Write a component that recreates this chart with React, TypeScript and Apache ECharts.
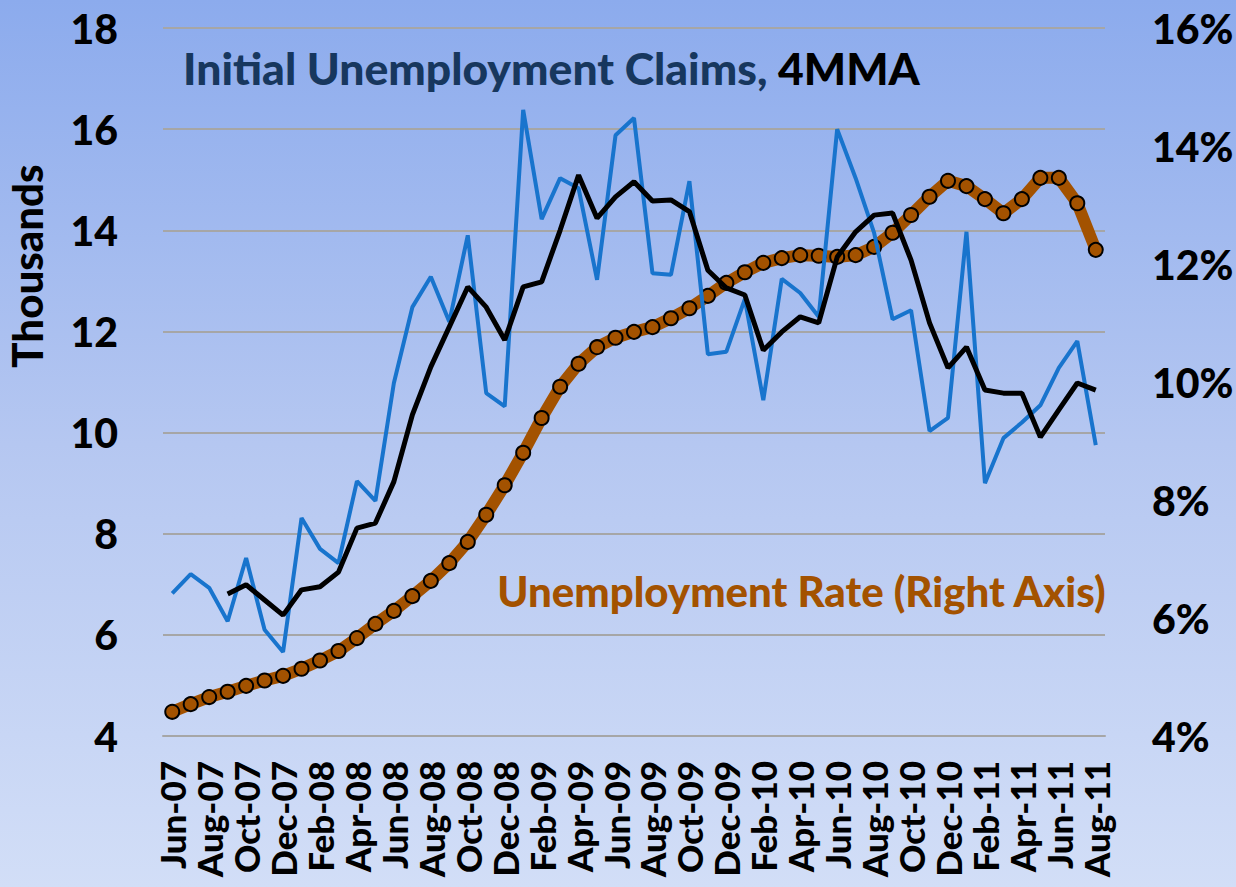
import React, { useEffect, useRef } from "react";
import * as echarts from "echarts";

const months = [
  "Jun-07", "Jul-07", "Aug-07", "Sep-07", "Oct-07", "Nov-07", "Dec-07",
  "Jan-08", "Feb-08", "Mar-08", "Apr-08", "May-08", "Jun-08", "Jul-08", "Aug-08", "Sep-08", "Oct-08", "Nov-08", "Dec-08",
  "Jan-09", "Feb-09", "Mar-09", "Apr-09", "May-09", "Jun-09", "Jul-09", "Aug-09", "Sep-09", "Oct-09", "Nov-09", "Dec-09",
  "Jan-10", "Feb-10", "Mar-10", "Apr-10", "May-10", "Jun-10", "Jul-10", "Aug-10", "Sep-10", "Oct-10", "Nov-10", "Dec-10",
  "Jan-11", "Feb-11", "Mar-11", "Apr-11", "May-11", "Jun-11", "Jul-11", "Aug-11",
];

const initialClaims = [
  6.82, 7.2, 6.93, 6.27, 7.52, 6.1, 5.66,
  8.31, 7.7, 7.42, 9.04, 8.65, 10.98, 12.48, 13.08, 12.19, 13.9, 10.78, 10.52,
  16.38, 14.22, 15.03, 14.83, 13.02, 15.88, 16.22, 13.15, 13.12, 14.97, 11.55, 11.6,
  12.64, 10.64, 13.04, 12.76, 12.29, 16.0, 15.03, 13.95, 12.24, 12.42, 10.03, 10.29,
  13.97, 9.0, 9.89, 10.2, 10.54, 11.28, 11.81, 9.75,
];

const claims4mma = [
  null, null, null, 6.81, 6.99, 6.69, 6.39,
  6.89, 6.95, 7.24, 8.11, 8.21, 9.03, 10.35, 11.3, 12.09, 12.88, 12.48, 11.83,
  12.88, 12.98, 14.0, 15.09, 14.24, 14.66, 14.96, 14.58, 14.6, 14.37, 13.21, 12.86,
  12.72, 11.63, 11.99, 12.29, 12.17, 13.47, 13.97, 14.3, 14.34, 13.41, 12.17, 11.28,
  11.69, 10.84, 10.78, 10.78, 9.91, 10.45, 10.98, 10.84,
];

const unemploymentRate = [
  4.41, 4.54, 4.66, 4.75, 4.85, 4.94, 5.02,
  5.14, 5.28, 5.44, 5.66, 5.9, 6.12, 6.37, 6.63, 6.93, 7.29, 7.75, 8.25,
  8.8, 9.39, 9.92, 10.31, 10.59, 10.75, 10.85, 10.93, 11.08, 11.25, 11.46, 11.68,
  11.86, 12.02, 12.1, 12.15, 12.14, 12.12, 12.15, 12.29, 12.53, 12.83, 13.14, 13.41,
  13.32, 13.1, 12.86, 13.1, 13.46, 13.46, 13.03, 12.24,
];

const FONT = "Lato";
const W = 900;

export default function App() {
  const ref = useRef<HTMLDivElement>(null);
  useEffect(() => {
    if (!ref.current) return;
    const chart = echarts.init(ref.current, null, { renderer: "svg" });
    chart.setOption({
      animation: false,
      backgroundColor: new echarts.graphic.LinearGradient(0, 0, 0, 1, [
        { offset: 0, color: "#8cabed" },
        { offset: 0.5, color: "#b5c7f1" },
        { offset: 1, color: "#d2def7" },
      ]),
      grid: {
        left: 163,
        right: 131,
        top: 28,
        bottom: 151,
        containLabel: false,
        outerBoundsMode: "none",
      },
      xAxis: {
        type: "category",
        data: months,
        boundaryGap: true,
        axisLine: { lineStyle: { color: "#a6a6a6", width: 2 } },
        axisTick: { show: false },
        axisLabel: {
          interval: 1,
          rotate: 90,
          margin: 25,
          hideOverlap: false,
          color: "#000",
          fontFamily: FONT,
          fontWeight: W,
          fontSize: 35,
          lineHeight: 33,
        },
      },
      yAxis: [
        {
          type: "value",
          min: 4,
          max: 18,
          interval: 2,
          axisLine: { show: false },
          axisTick: { show: false },
          splitLine: { lineStyle: { color: "#a6a6a6", width: 2 } },
          axisLabel: {
            margin: 45,
            color: "#000",
            fontFamily: FONT,
            fontWeight: W,
            fontSize: 41,
          },
        },
        {
          type: "value",
          min: 4,
          max: 16,
          interval: 2,
          position: "right",
          axisLine: { show: false },
          axisTick: { show: false },
          splitLine: { show: false },
          axisLabel: {
            margin: 47,
            formatter: "{value}%",
            color: "#000",
            fontFamily: FONT,
            fontWeight: W,
            fontSize: 41,
          },
        },
      ],
      series: [
        {
          name: "Unemployment Rate",
          type: "line",
          yAxisIndex: 1,
          data: unemploymentRate,
          lineStyle: { color: "#a35200", width: 12 },
          symbol: "circle",
          symbolSize: 14,
          showAllSymbol: true,
          itemStyle: { color: "#a35200", borderColor: "#000", borderWidth: 2 },
          z: 2,
        },
        {
          name: "Initial Claims",
          type: "line",
          data: initialClaims,
          lineStyle: { color: "#1874cd", width: 4 },
          symbol: "none",
          z: 3,
        },
        {
          name: "4MMA",
          type: "line",
          data: claims4mma,
          lineStyle: { color: "#000", width: 5 },
          symbol: "none",
          z: 4,
        },
      ],
      graphic: [
        {
          type: "text",
          left: 183,
          top: 45,
          style: {
            text: "{a|Initial Unemployment Claims, }{b|4MMA}",
            rich: {
              a: { fontFamily: FONT, fontWeight: W, fontSize: 44.5, fill: "#17375e" },
              b: { fontFamily: FONT, fontWeight: W, fontSize: 44.5, fill: "#000" },
            },
          },
        },
        {
          type: "text",
          right: 129,
          top: 570,
          style: {
            text: "Unemployment Rate (Right Axis)",
            fontFamily: FONT,
            fontWeight: W,
            fontSize: 42,
            fill: "#a35200",
          },
        },
        {
          type: "text",
          x: 27,
          y: 266,
          rotation: Math.PI / 2,
          style: {
            text: "Thousands",
            fontFamily: FONT,
            fontWeight: W,
            fontSize: 42,
            fill: "#000",
            align: "center",
            verticalAlign: "middle",
          },
        },
      ],
    });
    return () => chart.dispose();
  }, []);
  return (
    <div
      ref={ref}
      style={{ position: "fixed", left: 0, top: 0, width: 1236, height: 887 }}
    />
  );
}
